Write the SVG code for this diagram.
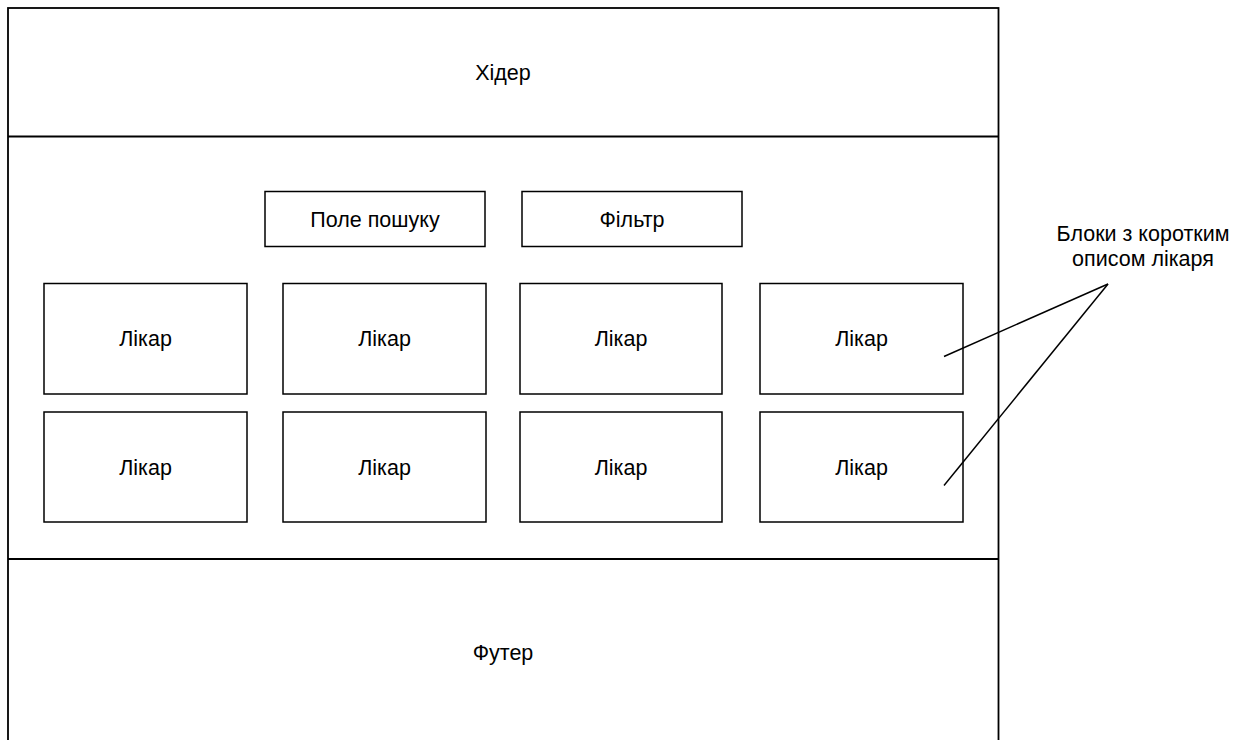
<svg xmlns="http://www.w3.org/2000/svg" width="1245" height="740" viewBox="0 0 1245 740">
<style>
.box{fill:#fff;stroke:#000;stroke-width:1.5}
.sec{fill:none;stroke:#000;stroke-width:1.8}
text{font-family:"Liberation Sans",Arial,sans-serif;font-size:21.5px;fill:#000;text-anchor:middle}
.ln{stroke:#000;stroke-width:1.5;fill:none}
</style>
<rect width="1245" height="740" fill="#fff"/>
<g id="page">
<rect class="sec" x="8" y="8" width="990.5" height="760"/>
</g>
<g id="header">
<line class="sec" x1="8" y1="136.5" x2="998.5" y2="136.5"/>
<text x="503" y="80">Хідер</text>
</g>
<g id="footer">
<line class="sec" x1="8" y1="559" x2="998.5" y2="559"/>
<text x="503" y="660">Футер</text>
</g>
<g id="search">
<rect class="box" x="265" y="191.5" width="220" height="55"/>
<text x="375" y="227">Поле пошуку</text>
</g>
<g id="filter">
<rect class="box" x="522" y="191.5" width="220" height="55"/>
<text x="632" y="227">Фільтр</text>
</g>
<g id="doc1"><rect class="box" x="44" y="283.5" width="203" height="110.5"/><text x="145.5" y="346">Лікар</text></g>
<g id="doc2"><rect class="box" x="283" y="283.5" width="203" height="110.5"/><text x="384.5" y="346">Лікар</text></g>
<g id="doc3"><rect class="box" x="520" y="283.5" width="202" height="110.5"/><text x="621" y="346">Лікар</text></g>
<g id="doc4"><rect class="box" x="760" y="283.5" width="203" height="110.5"/><text x="861.5" y="346">Лікар</text></g>
<g id="doc5"><rect class="box" x="44" y="412" width="203" height="110"/><text x="145.5" y="475">Лікар</text></g>
<g id="doc6"><rect class="box" x="283" y="412" width="203" height="110"/><text x="384.5" y="475">Лікар</text></g>
<g id="doc7"><rect class="box" x="520" y="412" width="202" height="110"/><text x="621" y="475">Лікар</text></g>
<g id="doc8"><rect class="box" x="760" y="412" width="203" height="110"/><text x="861.5" y="475">Лікар</text></g>
<g id="note">
<text x="1143" y="241">Блоки з коротким</text>
<text x="1143" y="266">описом лікаря</text>
</g>
<g id="connectors">
<line class="ln" x1="944" y1="356.5" x2="1108" y2="284"/>
<line class="ln" x1="944" y1="485.5" x2="1108" y2="284"/>
</g>
</svg>
